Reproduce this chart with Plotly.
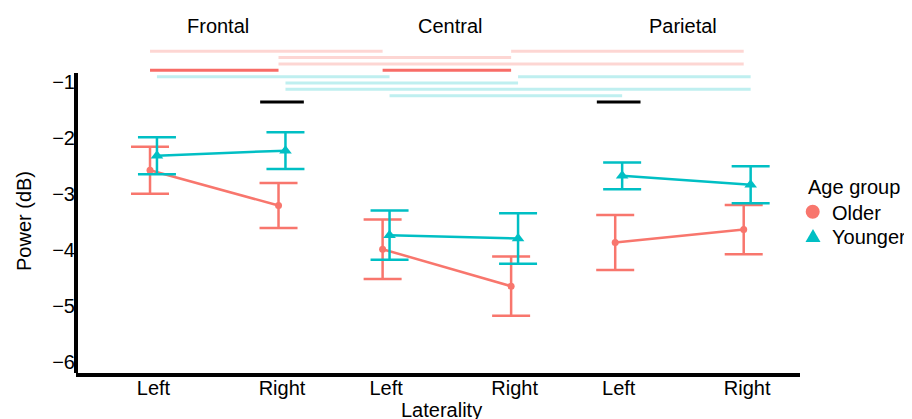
import plotly.graph_objects as go

# ---------------- data ----------------
regions = ["Frontal", "Central", "Parietal"]
laterality = ["Left", "Right"]
groups = ["Older", "Younger"]

older_mean = [-2.58, -3.21, -3.99, -4.65, -3.87, -3.64]
older_err = [0.42, 0.40, 0.53, 0.53, 0.49, 0.44]
younger_mean = [-2.32, -2.23, -3.74, -3.80, -2.68, -2.84]
younger_err = [0.33, 0.33, 0.44, 0.45, 0.24, 0.33]

# significance comparisons: (group, region_a, lat_a, region_b, lat_b, kind, tier)
comparisons = [
    ("Older", "Frontal", "Left", "Central", "Left", "between", 0),
    ("Older", "Central", "Right", "Parietal", "Right", "between", 0),
    ("Older", "Frontal", "Right", "Central", "Right", "between", 1),
    ("Older", "Frontal", "Right", "Parietal", "Right", "between", 2),
    ("Older", "Frontal", "Left", "Frontal", "Right", "within", 3),
    ("Older", "Central", "Left", "Central", "Right", "within", 3),
    ("Younger", "Frontal", "Left", "Central", "Left", "between", 4),
    ("Younger", "Central", "Right", "Parietal", "Right", "between", 4),
    ("Younger", "Frontal", "Right", "Central", "Right", "between", 5),
    ("Younger", "Frontal", "Right", "Parietal", "Right", "between", 6),
    ("Younger", "Central", "Left", "Parietal", "Left", "between", 7),
]
# group differences (Older vs Younger) at a region/laterality
group_diffs = [("Frontal", "Right"), ("Parietal", "Left")]

# ---------------- styling / layout helpers ----------------
REGION_GAP = 1.81
DODGE = {"Older": -0.027, "Younger": 0.027}
COL = {"Older": "#F8766D", "Younger": "#00BFC4"}
LIGHT = {"Older": "rgba(248,118,109,0.30)", "Younger": "rgba(0,191,196,0.25)"}
STRONG = {"Older": "rgba(248,100,95,0.95)", "Younger": "rgba(0,191,196,0.9)"}
SYMBOL = {"Older": "circle", "Younger": "triangle-up"}
MSIZE = {"Older": 7, "Younger": 11}
TIER_TOP = -0.455
TIER_STEP = 0.1135
FONT = "Liberation Sans, Arial, sans-serif"

# page body has an 8px margin: size the figure so the plot lands where intended
PAGE_OFF = 8
L, T, PW, PH = 76 - PAGE_OFF, 40 - PAGE_OFF, 724, 333
FIG_W, FIG_H = 912 - PAGE_OFF, 419 - PAGE_OFF


def xpos(region, lat, group=None):
    x = regions.index(region) * REGION_GAP + laterality.index(lat)
    if group is not None:
        x += DODGE[group]
    return x


def px(sx):  # screen x -> paper x
    return (sx - 76) / PW


def py(sy):  # screen y -> paper y
    return (373 - sy) / PH


fig = go.Figure()

# significance lines
for g, ra, la, rb, lb, kind, tier in comparisons:
    y = TIER_TOP - tier * TIER_STEP
    fig.add_trace(go.Scatter(
        x=[xpos(ra, la, g), xpos(rb, lb, g)], y=[y, y], mode="lines",
        line=dict(color=STRONG[g] if kind == "within" else LIGHT[g], width=3),
        showlegend=False, hoverinfo="skip"))

n_tiers = max(c[6] for c in comparisons) + 1
for r, l in group_diffs:
    y = TIER_TOP - n_tiers * TIER_STEP
    xc = xpos(r, l)
    fig.add_trace(go.Scatter(
        x=[xc - 0.17, xc + 0.17], y=[y, y], mode="lines",
        line=dict(color="black", width=3), showlegend=False, hoverinfo="skip"))

# data traces
for g, means, errs in [("Older", older_mean, older_err),
                       ("Younger", younger_mean, younger_err)]:
    xs, ys, es = [], [], []
    i = 0
    for r in regions:
        for l in laterality:
            xs.append(xpos(r, l, g))
            ys.append(means[i])
            es.append(errs[i])
            i += 1
        xs.append(None); ys.append(None); es.append(None)
    fig.add_trace(go.Scatter(
        x=xs, y=ys, mode="lines+markers", name=g, showlegend=False,
        line=dict(color=COL[g], width=2.5),
        marker=dict(color=COL[g], symbol=SYMBOL[g], size=MSIZE[g]),
        error_y=dict(type="data", array=es, visible=True, color=COL[g],
                     thickness=2.5, width=19),
        connectgaps=False))

tickvals = [xpos(r, l) for r in regions for l in laterality]
ticktext = [l for r in regions for l in laterality]

AXIS_BOTTOM = -6.20
AXIS_TOP = -0.845

shapes = [dict(type="line", xref="paper", yref="y", x0=0, x1=0,
               y0=AXIS_BOTTOM, y1=AXIS_TOP, line=dict(color="black", width=4))]

# manual legend keys
shapes.append(dict(type="circle", xref="paper", yref="paper",
                   xsizemode="pixel", ysizemode="pixel",
                   xanchor=px(812.7), yanchor=py(211.7),
                   x0=-7, x1=7, y0=-7, y1=7,
                   fillcolor=COL["Older"], line=dict(width=0)))
shapes.append(dict(type="path", xref="paper", yref="paper",
                   xsizemode="pixel", ysizemode="pixel",
                   xanchor=px(813), yanchor=py(236.5),
                   path="M -7.5,-5.5 L 7.5,-5.5 L 0,7.5 Z",
                   fillcolor=COL["Younger"], line=dict(width=0)))

fig.update_layout(
    width=FIG_W, height=FIG_H,
    margin=dict(l=L, r=FIG_W - L - PW, t=T, b=FIG_H - T - PH),
    plot_bgcolor="white", paper_bgcolor="white",
    font=dict(family=FONT, size=20, color="black"),
    showlegend=False,
    xaxis=dict(range=[-0.603, 5.031], tickvals=tickvals, ticktext=ticktext,
               showgrid=False, zeroline=False, showline=True,
               linecolor="black", linewidth=4, ticks="",
               ticklabelstandoff=-6, tickfont=dict(size=20)),
    yaxis=dict(range=[AXIS_BOTTOM, -0.255], tickvals=[-1, -2, -3, -4, -5, -6],
               showgrid=False, zeroline=False, showline=False, ticks="",
               tickfont=dict(size=20)),
    shapes=shapes,
)

for i, r in enumerate(regions):
    fig.add_annotation(text=r, x=i * REGION_GAP + 0.5, xref="x", y=1, yref="paper",
                       yanchor="middle", yshift=14.5, showarrow=False,
                       font=dict(size=20))

fig.add_annotation(text="Power (dB)", textangle=-90, x=px(24), xref="paper",
                   y=py(221), yref="paper", xanchor="center", yanchor="middle",
                   showarrow=False, font=dict(size=20))
fig.add_annotation(text="Laterality", x=px(441), xref="paper", y=py(410), yref="paper",
                   yanchor="middle", showarrow=False, font=dict(size=20))

# legend text
fig.add_annotation(text="Age group", x=px(806), y=py(186.5), xref="paper", yref="paper",
                   xanchor="left", yanchor="middle", showarrow=False, font=dict(size=20))
fig.add_annotation(text="Older", x=px(829.5), y=py(212.5), xref="paper", yref="paper",
                   xanchor="left", yanchor="middle", showarrow=False, font=dict(size=20))
fig.add_annotation(text="Younger", x=px(829.5), y=py(237), xref="paper", yref="paper",
                   xanchor="left", yanchor="middle", showarrow=False, font=dict(size=20))

fig.write_html("out.html")
